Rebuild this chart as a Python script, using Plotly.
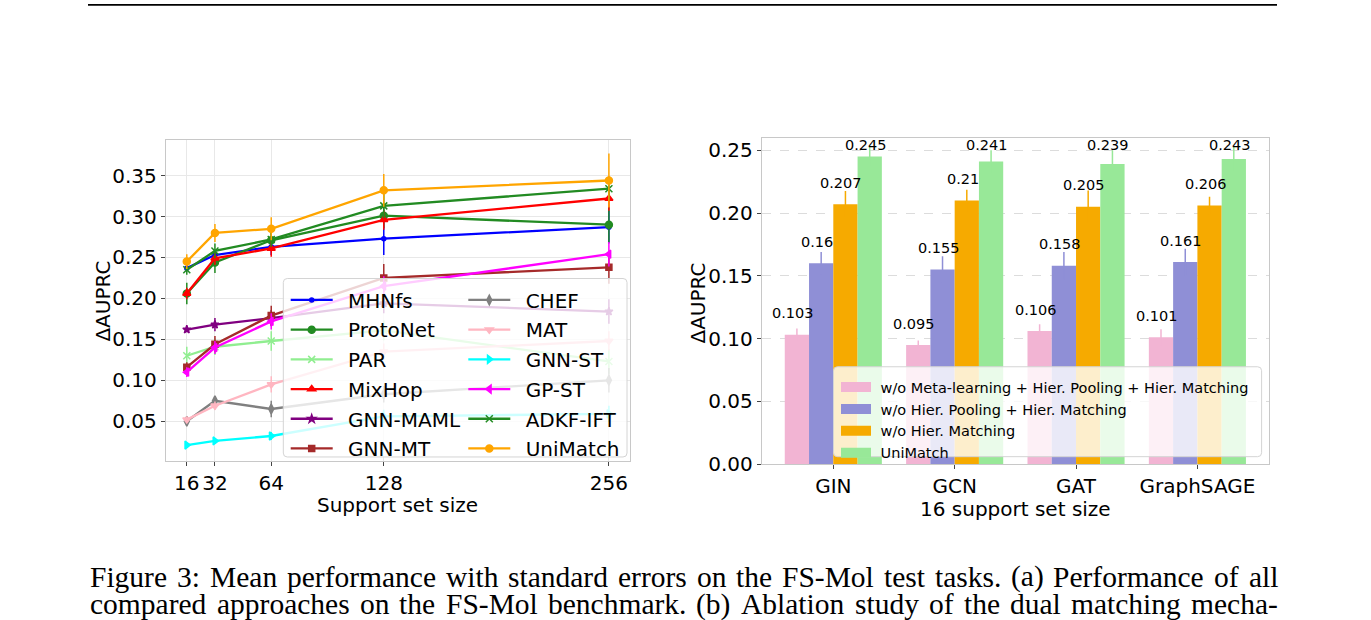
import plotly.graph_objects as go

W, H = 1371, 620

# ---------------- Panel (a) data ----------------
support_sizes = [16, 32, 64, 128, 256]
support_ticks = ["16", "32", "64", "128", "256"]

mhnfs = [0.237, 0.253, 0.263, 0.273, 0.287]
mhnfs_err = [0.004, 0.005, 0.010, 0.020, 0.020]
protonet = [0.206, 0.244, 0.271, 0.301, 0.290]
protonet_err = [0.013, 0.013, 0.010, 0.015, 0.022]
par = [0.130, 0.141, 0.148, 0.161, 0.123]
par_err = [0.011, 0.010, 0.012, 0.012, 0.015]
mixhop = [0.206, 0.249, 0.261, 0.296, 0.322]
mixhop_err = [0.007, 0.008, 0.010, 0.012, 0.015]
gnn_maml = [0.162, 0.168, 0.176, 0.194, 0.184]
gnn_maml_err = [0.003, 0.008, 0.010, 0.012, 0.015]
gnn_mt = [0.116, 0.144, 0.179, 0.225, 0.238]
gnn_mt_err = [0.006, 0.010, 0.012, 0.017, 0.020]
chef = [0.050, 0.075, 0.065, 0.083, 0.100]
chef_err = [0.004, 0.005, 0.010, 0.010, 0.015]
mat = [0.052, 0.069, 0.095, 0.135, 0.148]
mat_err = [0.004, 0.005, 0.010, 0.010, 0.012]
gnn_st = [0.021, 0.026, 0.032, 0.056, 0.059]
gnn_st_err = [0.002, 0.003, 0.005, 0.008, 0.010]
gp_st = [0.110, 0.140, 0.172, 0.215, 0.254]
gp_st_err = [0.006, 0.008, 0.010, 0.012, 0.015]
adkf_ift = [0.235, 0.258, 0.272, 0.313, 0.334]
adkf_ift_err = [0.006, 0.009, 0.009, 0.015, 0.015]
unimatch = [0.245, 0.280, 0.285, 0.332, 0.344]
unimatch_err = [0.009, 0.011, 0.014, 0.020, 0.033]

method_names = ["MHNfs", "ProtoNet", "PAR", "MixHop", "GNN-MAML", "GNN-MT",
                "CHEF", "MAT", "GNN-ST", "GP-ST", "ADKF-IFT", "UniMatch"]
method_values = [mhnfs, protonet, par, mixhop, gnn_maml, gnn_mt,
                 chef, mat, gnn_st, gp_st, adkf_ift, unimatch]
method_errors = [mhnfs_err, protonet_err, par_err, mixhop_err, gnn_maml_err, gnn_mt_err,
                 chef_err, mat_err, gnn_st_err, gp_st_err, adkf_ift_err, unimatch_err]

# ---------------- Panel (b) data ----------------
backbones = ["GIN", "GCN", "GAT", "GraphSAGE"]
ablation_names = ["w/o Meta-learning + Hier. Pooling + Hier. Matching",
                  "w/o Hier. Pooling + Hier. Matching",
                  "w/o Hier. Matching",
                  "UniMatch"]
wo_meta = [0.103, 0.095, 0.106, 0.101]
wo_meta_err = [0.005, 0.0035, 0.0055, 0.0065]
wo_pool = [0.160, 0.155, 0.158, 0.161]
wo_pool_err = [0.009, 0.0105, 0.011, 0.0105]
wo_match = [0.207, 0.210, 0.205, 0.206]
wo_match_err = [0.0105, 0.0085, 0.013, 0.007]
unimatch_b = [0.245, 0.241, 0.239, 0.243]
unimatch_b_err = [0.0076, 0.009, 0.011, 0.0096]
ablation_values = [wo_meta, wo_pool, wo_match, unimatch_b]
ablation_errors = [wo_meta_err, wo_pool_err, wo_match_err, unimatch_b_err]

caption_lines = [
    "Figure 3: Mean performance with standard errors on the FS-Mol test tasks. (a) Performance of all",
    "compared approaches on the FS-Mol benchmark. (b) Ablation study of the dual matching mecha-",
]

# ---------------- styles ----------------
FONT = "DejaVu Sans"
line_colors = ["#0000ff", "#228b22", "#90ee90", "#ff0000", "#800080", "#a52a2a",
               "#808080", "#ffb6c1", "#00ffff", "#ff00ff", "#228b22", "#ffa500"]
line_symbols = ["circle", "circle", "x-thin-open", "triangle-up", "star", "square",
                "diamond-tall", "triangle-down", "triangle-right", "triangle-left",
                "x-thin-open", "circle"]
line_msizes = [4, 7, 7, 7, 6, 6, 7, 7, 7, 7, 7, 7]
bar_colors = ["#f2b4d3", "#8f8fd6", "#f6aa00", "#98e898"]
PAD_L = "\u00a0\u2009"   # small gap between legend sample and label
PAD_R = "\u00a0"


def px(x):
    return x / W


def py(y):
    return 1 - y / H


fig = go.Figure()

# ---------------- panel (a) traces ----------------
for i, (name, vals, errs) in enumerate(zip(method_names, method_values, method_errors)):
    c = line_colors[i]
    fig.add_trace(go.Scatter(
        x=support_sizes, y=vals, name=PAD_L + name, mode="lines+markers",
        line=dict(color=c, width=2.3),
        marker=dict(color=c, symbol=line_symbols[i], size=line_msizes[i],
                    line=dict(color=c, width=1.5)),
        error_y=dict(type="data", array=errs, color=c, thickness=1.5, width=0),
        xaxis="x", yaxis="y",
        legend="legend" if i < 6 else "legend2",
        legendgroup=name,
    ))

# ---------------- panel (b) traces ----------------
offsets = [-0.3, -0.1, 0.1, 0.3]
for j, (name, vals, errs) in enumerate(zip(ablation_names, ablation_values, ablation_errors)):
    xs = [k + offsets[j] for k in range(len(backbones))]
    fig.add_trace(go.Bar(
        x=xs, y=vals, width=0.2, name=name, showlegend=False,
        marker=dict(color=bar_colors[j], line=dict(width=0)),
        error_y=dict(type="data", array=errs, color=bar_colors[j], thickness=1.5, width=0),
        xaxis="x2", yaxis="y2",
    ))
    # legend patch
    fig.add_trace(go.Scatter(
        x=[None], y=[None], name=PAD_R + name, mode="lines",
        line=dict(color=bar_colors[j], width=11),
        xaxis="x2", yaxis="y2", legend="legend3",
    ))
    for k, v in enumerate(vals):
        fig.add_annotation(
            x=xs[k], y=min(v + 0.017, 0.2544), xref="x2", yref="y2",
            text=f"{v:g}", showarrow=False, xshift=-4,
            font=dict(family=FONT, size=14.5, color="black"),
            xanchor="center", yanchor="middle",
        )

# ---------------- axes ----------------
ax_common = dict(showline=True, mirror=True, linecolor="#c8c8c8", linewidth=1,
                 ticks="outside", ticklen=4, tickcolor="#444", tickwidth=1,
                 tickfont=dict(family=FONT, size=20, color="black"), zeroline=False)

fig.update_layout(
    width=W, height=H, margin=dict(l=0, r=0, t=0, b=0),
    paper_bgcolor="white", plot_bgcolor="white",
    barmode="overlay",
    xaxis=dict(domain=[px(165.7), px(630)], range=[4.0, 268.0], anchor="y",
               tickvals=support_sizes, ticktext=support_ticks,
               showgrid=True, gridcolor="#e8e8e8", gridwidth=1, **ax_common),
    yaxis=dict(domain=[py(470.5), py(142.3)], range=[0.001, 0.394], anchor="x",
               tickvals=[0.05, 0.10, 0.15, 0.20, 0.25, 0.30, 0.35],
               ticktext=["0.05", "0.10", "0.15", "0.20", "0.25", "0.30", "0.35"],
               showgrid=True, gridcolor="#e8e8e8", gridwidth=1, **ax_common),
    xaxis2=dict(domain=[px(761.7), px(1269)], range=[-0.59, 3.59], anchor="y2",
                tickvals=[0, 1, 2, 3], ticktext=backbones, showgrid=False,
                **ax_common),
    yaxis2=dict(domain=[py(473.3), py(140.7)], range=[0, 0.2598], anchor="x2",
                tickvals=[0, 0.05, 0.10, 0.15, 0.20, 0.25],
                ticktext=["0.00", "0.05", "0.10", "0.15", "0.20", "0.25"],
                showgrid=True, gridcolor="#dcdcdc", griddash="dash", gridwidth=1,
                **ax_common),
    legend=dict(x=px(285.7), y=py(286), xanchor="left", yanchor="top",
                bgcolor="rgba(0,0,0,0)", borderwidth=0, itemwidth=42,
                tracegroupgap=0.7,
                font=dict(family=FONT, size=20, color="black")),
    legend2=dict(x=px(463.3), y=py(286), xanchor="left", yanchor="top",
                 bgcolor="rgba(0,0,0,0)", borderwidth=0, itemwidth=42,
                 tracegroupgap=0.7,
                 font=dict(family=FONT, size=20, color="black")),
    legend3=dict(x=px(836), y=py(378.5), xanchor="left", yanchor="top",
                 bgcolor="rgba(0,0,0,0)", borderwidth=0,
                 font=dict(family=FONT, size=14.5, color="black")),
)


def rounded_box(x0, y0, x1, y1, r=4):
    pts = [
        f"M{px(x0 + r)},{py(y0)}", f"L{px(x1 - r)},{py(y0)}",
        f"Q{px(x1)},{py(y0)} {px(x1)},{py(y0 + r)}", f"L{px(x1)},{py(y1 - r)}",
        f"Q{px(x1)},{py(y1)} {px(x1 - r)},{py(y1)}", f"L{px(x0 + r)},{py(y1)}",
        f"Q{px(x0)},{py(y1)} {px(x0)},{py(y1 - r)}", f"L{px(x0)},{py(y0 + r)}",
        f"Q{px(x0)},{py(y0)} {px(x0 + r)},{py(y0)}", "Z",
    ]
    return dict(type="path", path=" ".join(pts), xref="paper", yref="paper",
                fillcolor="rgba(255,255,255,0.8)", line=dict(color="#d4d4d4", width=1),
                layer="above")


fig.add_shape(rounded_box(283.3, 284, 627, 466))
fig.add_shape(rounded_box(833.5, 374, 1261.6, 465.7))

# top rule of the page
fig.add_shape(type="line", xref="paper", yref="paper",
              x0=px(88), x1=px(1277), y0=py(5), y1=py(5),
              line=dict(color="black", width=1.6))

# axis titles
title_font = dict(family=FONT, size=20, color="black")
for (tx, ty, txt, ang) in [(397.9, 515, "Support set size", 0),
                           (103.5, 307, "ΔAUPRC", -90),
                           (1015.9, 519, "16 support set size", 0),
                           (698, 309.5, "ΔAUPRC", -90)]:
    fig.add_annotation(x=px(tx), y=py(ty), xref="paper", yref="paper",
                       text=txt, textangle=ang, showarrow=False, font=title_font,
                       xanchor="center", yanchor="middle")

# ---------------- justified caption ----------------
TIMES = {
    'a': 444, 'b': 500, 'c': 444, 'd': 500, 'e': 444, 'f': 333, 'g': 500, 'h': 500,
    'i': 278, 'j': 278, 'k': 500, 'l': 278, 'm': 778, 'n': 500, 'o': 500, 'p': 500,
    'q': 500, 'r': 333, 's': 389, 't': 278, 'u': 500, 'v': 500, 'w': 722, 'x': 500,
    'y': 500, 'z': 444, 'A': 722, 'F': 556, 'M': 889, 'P': 556, 'S': 556,
    '3': 500, ':': 278, '.': 250, '(': 333, ')': 333, '-': 333, ' ': 250,
}
cap_size = 29.5
cap_left, cap_right = 89.0, 1277.0
cap_centers = [588, 616]


def word_w(w):
    return sum(TIMES.get(ch, 500) for ch in w) * cap_size / 1000.0


for line, yc in zip(caption_lines, cap_centers):
    words = line.split(" ")
    total = sum(word_w(w) for w in words)
    gap = (cap_right - cap_left - total) / (len(words) - 1)
    xcur = cap_left
    for w in words:
        fig.add_annotation(x=px(xcur), y=py(yc), xref="paper", yref="paper",
                           text=w, showarrow=False, xanchor="left", yanchor="middle",
                           borderpad=0,
                           font=dict(family="Liberation Serif", size=cap_size, color="black"))
        xcur += word_w(w) + gap

fig.write_html("out.html")
